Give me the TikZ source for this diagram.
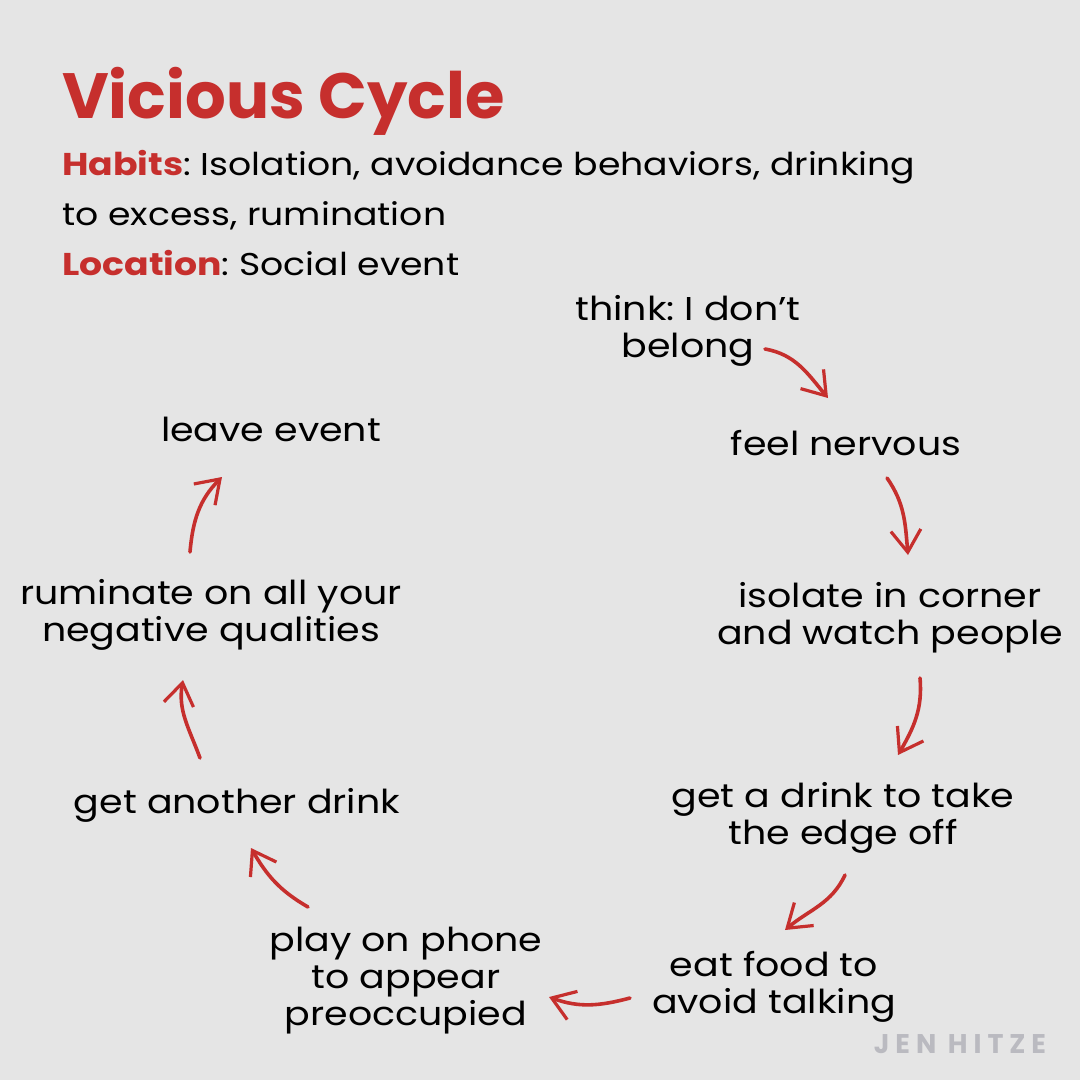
\documentclass[tikz,border=0pt]{standalone}
\usepackage{fontspec}
\setmainfont{Poppins}
\newfontfamily\widefont{Poppins}[FakeStretch=1.15]
\newfontfamily\sigfont{Poppins}[LetterSpace=22]
\usetikzlibrary{arrows.meta,positioning}
\definecolor{cyred}{HTML}{C62F2D}
\definecolor{cybg}{HTML}{E5E5E5}
\definecolor{cygray}{HTML}{BABAC0}
\frenchspacing

\begin{document}
\begin{tikzpicture}[x=1pt,y=1pt,
 st/.style={align=center,inner sep=0pt,font=\widefont\fontsize{33}{37}\selectfont,text=black},
 hd/.style={anchor=base west,inner sep=0pt,font=\widefont\fontsize{31.5}{40}\selectfont},
 arr/.style={->,draw=cyred,line width=3.6pt,line cap=round,
  >={Straight Barb[length=22pt,width=30pt,line width=3.2pt]}}]
\fill[cybg] (0,0) rectangle (1080,-1080);
\useasboundingbox (0,0) rectangle (1080,-1080);
% header
\node[hd,font=\fontsize{64}{70}\selectfont\bfseries,text=cyred] (title) at (62,-118) {Vicious Cycle};
\node[hd] (habits) at (62,-175) {\textcolor{cyred}{\textbf{Habits}}: Isolation, avoidance behaviors, drinking};
\node[hd] (habits2) at (62,-225) {to excess, rumination};
\node[hd] (loc) at (62,-275) {\textcolor{cyred}{\textbf{Location}}: Social event};
% cycle
\node[st] (think) at (688,-331) {think: I don’t\\belong};
\node[st] (nervous) at (846,-443) {feel nervous};
\node[st] (isolate) at (890,-618) {isolate in corner\\and watch people};
\node[st] (drink) at (843,-818) {get a drink to take\\the edge off};
\node[st] (eat) at (774,-987) {eat food to\\avoid talking};
\node[st] (phone) at (406,-981) {play on phone\\to appear\\preoccupied};
\node[st] (another) at (237,-805) {get another drink};
\node[st] (ruminate) at (211,-615) {ruminate on all your\\negative qualities};
\node[st] (leave) at (271,-429) {leave event};
\draw[arr] ([shift={(77,-18)}]think.center) to[out=-10,in=130] ([shift={(-18,45)}]nervous.center);
\draw[arr] ([shift={(41,-35)}]nervous.center) to[out=-55,in=95] ([shift={(18,63)}]isolate.center);
\draw[arr] ([shift={(30,-60)}]isolate.center) to[out=-85,in=60] ([shift={(55,63)}]drink.center);
\draw[arr] ([shift={(2,-57)}]drink.center) to[out=-115,in=40] ([shift={(11,57)}]eat.center);
\draw[arr] ([shift={(-144,-11)}]eat.center) to[out=195,in=-20] ([shift={(143,-16)}]phone.center);
\draw[arr] ([shift={(-98,74)}]phone.center) to[out=150,in=-60] ([shift={(14,-43)}]another.center);
\draw[arr] ([shift={(-37,47)}]another.center) to[out=110,in=-100] ([shift={(-28,-65)}]ruminate.center);
\draw[arr] ([shift={(-21,63)}]ruminate.center) to[out=85,in=-135] ([shift={(-49,-48)}]leave.center);
% signature
\node[inner sep=0pt,text=cygray,font=\sigfont\fontsize{27}{30}\selectfont\bfseries] (sig) at (960,-1044) {JEN HITZE};
\end{tikzpicture}
\end{document}
